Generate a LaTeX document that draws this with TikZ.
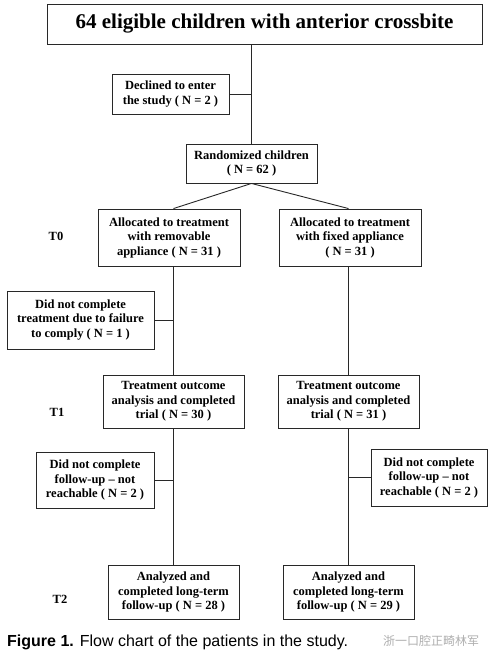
\documentclass[tikz,border=0pt]{standalone}
\usepackage{fontspec}
\setmainfont{Liberation Serif}
\setsansfont{Liberation Sans}
\newfontfamily\cjkfont{Noto Sans CJK SC}
\usetikzlibrary{positioning,calc}
\definecolor{lineDark}{RGB}{40,40,40}
\definecolor{markGray}{RGB}{175,175,175}
\tikzset{
  flowbox/.style={
    rectangle, draw=lineDark, line width=0.9pt, fill=white, inner sep=0pt,
    align=center, font=\fontsize{12.5}{14.5}\selectfont\bfseries
  },
  phase/.style={font=\fontsize{12.5}{14.5}\selectfont\bfseries},
  link/.style={draw=lineDark, line width=0.9pt}
}

\begin{document}
\begin{tikzpicture}[x=1pt, y=-1pt]
  \useasboundingbox (0,0) rectangle (500,655);
  \fill[white] (0,0) rectangle (500,655);
  \node[flowbox, minimum width=435pt, minimum height=40pt,
        font=\fontsize{21}{24}\selectfont\bfseries] (top) at (264.5,24)
    {64 eligible children with anterior crossbite};
  \node[flowbox, minimum width=117pt, minimum height=40pt] (declined) at (170.5,94)
    {Declined to enter\\the study ( N = 2 )};
  \node[flowbox, minimum width=131pt, minimum height=39pt] (rand) at (251.5,163.5)
    {Randomized children\\( N = 62 )};
  \node[flowbox, minimum width=142pt, minimum height=57pt] (allocL) at (169,237.5)
    {Allocated to treatment\\with removable\\appliance ( N = 31 )};
  \node[flowbox, minimum width=142pt, minimum height=57pt] (allocR) at (350,237.5)
    {Allocated to treatment\\with fixed appliance\\( N = 31 )};
  \node[flowbox, minimum width=147pt, minimum height=58pt] (drop1) at (80.5,320)
    {Did not complete\\treatment due to failure\\to comply ( N = 1 )};
  \node[flowbox, minimum width=141pt, minimum height=53pt] (t1L) at (173.5,401.5)
    {Treatment outcome\\analysis and completed\\trial ( N = 30 )};
  \node[flowbox, minimum width=141pt, minimum height=53pt] (t1R) at (348.5,401.5)
    {Treatment outcome\\analysis and completed\\trial ( N = 31 )};
  \node[flowbox, minimum width=118pt, minimum height=56pt] (drop2L) at (95,480)
    {Did not complete\\follow-up -- not\\reachable ( N = 2 )};
  \node[flowbox, minimum width=116pt, minimum height=57pt] (drop2R) at (429,477.5)
    {Did not complete\\follow-up -- not\\reachable ( N = 2 )};
  \node[flowbox, minimum width=131pt, minimum height=54pt] (t2L) at (173.5,592)
    {Analyzed and\\completed long-term\\follow-up ( N = 28 )};
  \node[flowbox, minimum width=131pt, minimum height=54pt] (t2R) at (348.5,592)
    {Analyzed and\\completed long-term\\follow-up ( N = 29 )};
  \node[phase] (lt0) at (56,236) {T0};
  \node[phase] (lt1) at (57,412) {T1};
  \node[phase] (lt2) at (60,599) {T2};
  % connectors
  \coordinate (j0) at (declined.east -| rand.north);
  \draw[link] (top.south -| rand.north) -- (rand.north);
  \draw[link] (declined.east) -- (j0);
  \draw[link] (rand.south) -- (allocL.north -| t1L.north);
  \draw[link] (rand.south) -- (allocR.north -| t1R.north);
  \draw[link] (allocL.south -| t1L.north) -- (t1L.north);
  \draw[link] (allocR.south -| t1R.north) -- (t1R.north);
  \draw[link] (drop1.east) -- (drop1.east -| t1L.north);
  \draw[link] (t1L.south) -- (t2L.north);
  \draw[link] (t1R.south) -- (t2R.north);
  \draw[link] (drop2L.east) -- (drop2L.east -| t1L.south);
  \draw[link] (drop2R.west) -- (drop2R.west -| t1R.south);
  % caption
  \node[anchor=west, font=\sffamily\fontsize{16}{18}\selectfont, inner sep=0pt] (cap) at (7,642)
    {\textbf{Figure 1.} Flow chart of the patients in the study.};
  \node[anchor=west, font=\cjkfont\fontsize{12}{14}\selectfont, text=markGray, inner sep=0pt]
    (mark) at (383,641) {浙一口腔正畸林军};
\end{tikzpicture}
\end{document}
